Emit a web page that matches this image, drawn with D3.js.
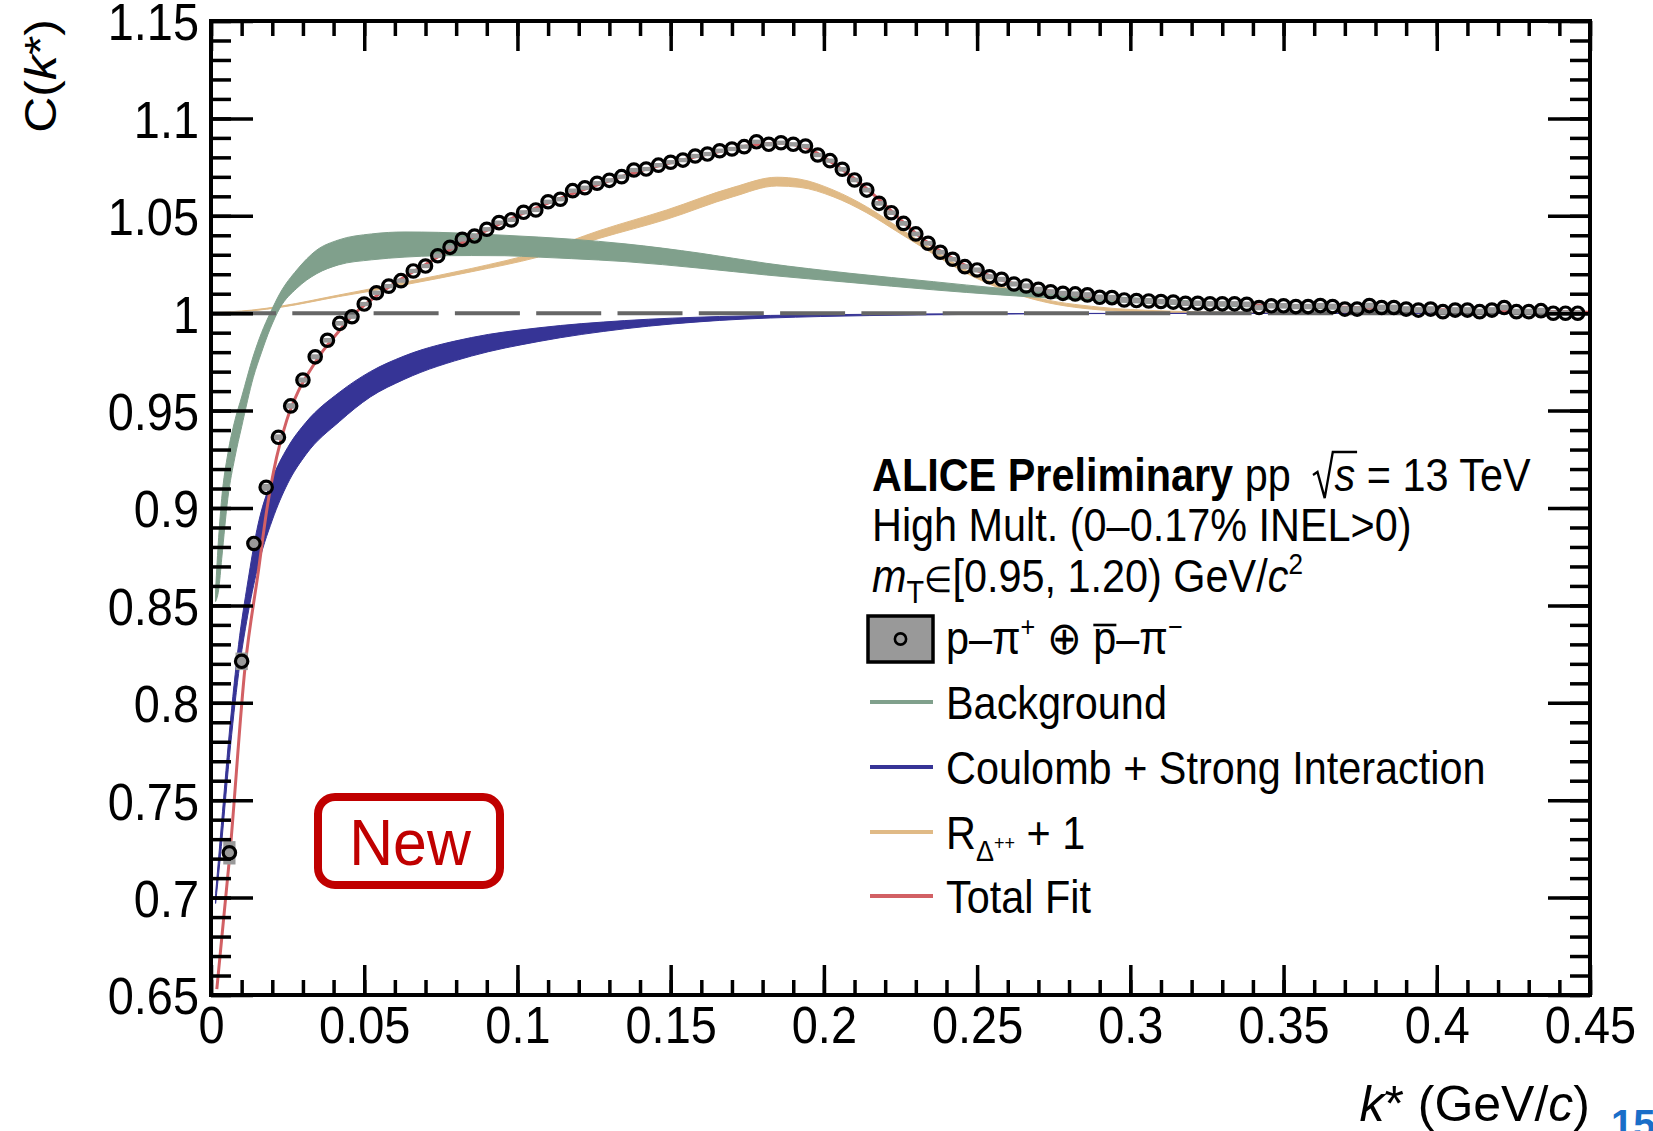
<!DOCTYPE html>
<html>
<head>
<meta charset="utf-8">
<script src="https://cdn.jsdelivr.net/npm/d3@7"></script>
<style>
  body { margin: 0; background: #fff; }
  svg { display: block; }
  text { font-family: "Liberation Sans", Arial, Helvetica, sans-serif; }
</style>
</head>
<body>
<script>
// ---- data ----
// bin centres k* (GeV/c) and measured correlation C(k*)
const kStar = [
  0.006, 0.010, 0.014, 0.018, 0.022, 0.026, 0.030, 0.034, 0.038, 0.042,
  0.046, 0.050, 0.054, 0.058, 0.062, 0.066, 0.070, 0.074, 0.078, 0.082,
  0.086, 0.090, 0.094, 0.098, 0.102, 0.106, 0.110, 0.114, 0.118, 0.122,
  0.126, 0.130, 0.134, 0.138, 0.142, 0.146, 0.150, 0.154, 0.158, 0.162,
  0.166, 0.170, 0.174, 0.178, 0.182, 0.186, 0.190, 0.194, 0.198, 0.202,
  0.206, 0.210, 0.214, 0.218, 0.222, 0.226, 0.230, 0.234, 0.238, 0.242,
  0.246, 0.250, 0.254, 0.258, 0.262, 0.266, 0.270, 0.274, 0.278, 0.282,
  0.286, 0.290, 0.294, 0.298, 0.302, 0.306, 0.310, 0.314, 0.318, 0.322,
  0.326, 0.330, 0.334, 0.338, 0.342, 0.346, 0.350, 0.354, 0.358, 0.362,
  0.366, 0.370, 0.374, 0.378, 0.382, 0.386, 0.390, 0.394, 0.398, 0.402,
  0.406, 0.410, 0.414, 0.418, 0.422, 0.426, 0.430, 0.434, 0.438, 0.442,
  0.446
];
const corr = [
  0.7230, 0.8213, 0.8818, 0.9106, 0.9363, 0.9524, 0.9657, 0.9776, 0.9861, 0.9948,
  0.9982, 1.0047, 1.0105, 1.0139, 1.0167, 1.0217, 1.0242, 1.0295, 1.0338, 1.0379,
  1.0396, 1.0431, 1.0465, 1.0479, 1.0518, 1.0530, 1.0572, 1.0585, 1.0629, 1.0644,
  1.0667, 1.0682, 1.0701, 1.0735, 1.0740, 1.0760, 1.0775, 1.0786, 1.0807, 1.0817,
  1.0834, 1.0843, 1.0855, 1.0880, 1.0867, 1.0875, 1.0867, 1.0858, 1.0812, 1.0783,
  1.0739, 1.0684, 1.0632, 1.0564, 1.0516, 1.0461, 1.0407, 1.0359, 1.0313, 1.0277,
  1.0239, 1.0222, 1.0187, 1.0174, 1.0150, 1.0140, 1.0123, 1.0110, 1.0102, 1.0099,
  1.0094, 1.0082, 1.0080, 1.0068, 1.0065, 1.0063, 1.0060, 1.0057, 1.0051, 1.0051,
  1.0048, 1.0048, 1.0048, 1.0046, 1.0029, 1.0038, 1.0038, 1.0034, 1.0034, 1.0039,
  1.0034, 1.0021, 1.0021, 1.0039, 1.0029, 1.0029, 1.0021, 1.0016, 1.0021, 1.0008,
  1.0016, 1.0016, 1.0008, 1.0016, 1.0029, 1.0008, 1.0008, 1.0013, 1.0000, 1.0000,
  1.0000
];
// systematic uncertainty (half height of the grey boxes)
const syst = [
  0.0060, 0.0045, 0.0025, 0.0018, 0.0015, 0.0014, 0.0013, 0.0013, 0.0012, 0.0012,
  0.0011, 0.0011, 0.0011, 0.0011, 0.0011, 0.0011, 0.0011, 0.0011, 0.0011, 0.0011,
  0.0011, 0.0011, 0.0011, 0.0011, 0.0011, 0.0011, 0.0011, 0.0011, 0.0011, 0.0011,
  0.0011, 0.0011, 0.0011, 0.0011, 0.0011, 0.0011, 0.0011, 0.0011, 0.0011, 0.0011,
  0.0011, 0.0011, 0.0011, 0.0011, 0.0011, 0.0011, 0.0011, 0.0011, 0.0011, 0.0011,
  0.0012, 0.0012, 0.0012, 0.0012, 0.0012, 0.0012, 0.0012, 0.0012, 0.0012, 0.0012,
  0.0013, 0.0013, 0.0013, 0.0013, 0.0013, 0.0013, 0.0013, 0.0013, 0.0013, 0.0013,
  0.0014, 0.0014, 0.0014, 0.0014, 0.0014, 0.0014, 0.0014, 0.0014, 0.0014, 0.0014,
  0.0014, 0.0014, 0.0014, 0.0014, 0.0014, 0.0014, 0.0014, 0.0014, 0.0014, 0.0014,
  0.0015, 0.0015, 0.0015, 0.0015, 0.0015, 0.0015, 0.0015, 0.0015, 0.0015, 0.0015,
  0.0015, 0.0015, 0.0015, 0.0015, 0.0015, 0.0015, 0.0015, 0.0015, 0.0015, 0.0015,
  0.0015
];

// Background band
const greenK  = [0.0015, 0.0025, 0.0035, 0.0055, 0.0078, 0.010, 0.0138, 0.0165, 0.0193, 0.0225, 0.028, 0.0345, 0.0416, 0.0524, 0.0633, 0.0742, 0.0851, 0.0959, 0.1068, 0.1177, 0.1351, 0.1596, 0.1813, 0.2085, 0.2357, 0.2575, 0.2901, 0.32, 0.35, 0.40, 0.45];
const greenHi = [0.858, 0.885, 0.905, 0.928, 0.945, 0.957, 0.978, 0.990, 1.000, 1.0102, 1.0222, 1.0324, 1.0376, 1.0407, 1.0417, 1.0415, 1.0408, 1.0400, 1.0391, 1.0380, 1.0356, 1.0308, 1.0256, 1.0205, 1.0162, 1.0128, 1.0089, 1.0062, 1.0042, 1.0020, 1.0008];
const greenLo = [0.852, 0.858, 0.874, 0.905, 0.926, 0.9417, 0.967, 0.980, 0.992, 1.0027, 1.0128, 1.0203, 1.0248, 1.0274, 1.0288, 1.0295, 1.0296, 1.0295, 1.0288, 1.0280, 1.0265, 1.0231, 1.0196, 1.0158, 1.0120, 1.0094, 1.0063, 1.0042, 1.0028, 1.0012, 1.0003];

// Coulomb + strong interaction band
const blueK  = [0.0015, 0.003, 0.006, 0.009, 0.012, 0.015, 0.020, 0.025, 0.031, 0.042, 0.052, 0.063, 0.085, 0.107, 0.135, 0.166, 0.199, 0.231, 0.284, 0.35, 0.45];
const blueHi = [0.702, 0.730, 0.785, 0.830, 0.862, 0.889, 0.915, 0.931, 0.944, 0.9595, 0.970, 0.978, 0.9875, 0.9925, 0.9962, 0.9983, 0.9992, 0.9996, 0.9999, 1.0, 1.0];
const blueLo = [0.697, 0.720, 0.772, 0.815, 0.845, 0.868, 0.8938, 0.9125, 0.9275, 0.9445, 0.957, 0.966, 0.978, 0.9855, 0.9920, 0.9963, 0.9983, 0.9991, 0.9998, 0.9999, 1.0];

// R_Delta++ + 1 band
const tanK  = [0.0, 0.0133, 0.023, 0.0416, 0.0524, 0.0633, 0.0851, 0.1068, 0.1269, 0.1487, 0.1704, 0.1846, 0.1922, 0.203, 0.2139, 0.2248, 0.2357, 0.2465, 0.2574, 0.2683, 0.29, 0.31, 0.33, 0.36, 0.40, 0.45];
const tanHi = [1.0003, 1.0016, 1.0037, 1.0093, 1.0126, 1.0160, 1.0230, 1.0314, 1.0425, 1.0530, 1.0646, 1.0698, 1.0688, 1.0633, 1.0547, 1.0436, 1.0325, 1.0222, 1.0143, 1.0085, 1.0031, 1.0012, 1.0005, 1.0002, 1.0001, 1.0000];
const tanLo = [1.0000, 1.0012, 1.0031, 1.0085, 1.0114, 1.0146, 1.0213, 1.0288, 1.0385, 1.0482, 1.0598, 1.0653, 1.0646, 1.0598, 1.0516, 1.0410, 1.0304, 1.0205, 1.0128, 1.0072, 1.0017, 1.0004, 1.0000, 1.0000, 1.0000, 1.0000];

// Total fit
const redK = [0.0019, 0.0062, 0.0111, 0.0155, 0.0182, 0.0214, 0.0247, 0.0285, 0.0329, 0.0367, 0.0416, 0.0456,
  0.05, 0.06, 0.07, 0.08, 0.09, 0.10, 0.11, 0.12, 0.13, 0.14, 0.15, 0.16, 0.17,
  0.175, 0.18, 0.185, 0.19, 0.195, 0.20, 0.205, 0.21, 0.215, 0.22, 0.225, 0.23, 0.235, 0.24, 0.245, 0.25,
  0.26, 0.27, 0.28, 0.29, 0.30, 0.32, 0.34, 0.36, 0.38, 0.40, 0.42, 0.45];
const redC = [0.653, 0.723, 0.818, 0.868, 0.899, 0.926, 0.945, 0.960, 0.972, 0.981, 0.9905, 0.998,
  1.004, 1.0155, 1.025, 1.0345, 1.0425, 1.050, 1.0565, 1.0625, 1.068, 1.073, 1.0772, 1.081, 1.0843,
  1.0858, 1.0868, 1.0872, 1.0866, 1.0845, 1.080, 1.0748, 1.069, 1.0625, 1.0555, 1.048, 1.041, 1.035, 1.030, 1.0255, 1.0218,
  1.016, 1.0125, 1.010, 1.008, 1.0068, 1.0052, 1.0042, 1.0034, 1.0026, 1.0018, 1.0012, 1.0005];

const xTicks = [0, 0.05, 0.1, 0.15, 0.2, 0.25, 0.3, 0.35, 0.4, 0.45];
const xTickLabels = ["0", "0.05", "0.1", "0.15", "0.2", "0.25", "0.3", "0.35", "0.4", "0.45"];
const yTicks = [0.65, 0.7, 0.75, 0.8, 0.85, 0.9, 0.95, 1.0, 1.05, 1.1, 1.15];
const yTickLabels = ["0.65", "0.7", "0.75", "0.8", "0.85", "0.9", "0.95", "1", "1.05", "1.1", "1.15"];

const greenColor = "#80a08c", blueColor = "#363496", tanColor = "#e0ba86", redColor = "#d26064";

// ---- layout ----
const W = 1653, H = 1131;
const x = d3.scaleLinear().domain([0, 0.45]).range([211, 1590]);
const y = d3.scaleLinear().domain([0.65, 1.15]).range([995, 21]);

const svg = d3.select("body").append("svg").attr("width", W).attr("height", H);
svg.append("rect").attr("width", W).attr("height", H).attr("fill", "#fff");

svg.append("clipPath").attr("id", "plotclip").append("rect")
  .attr("x", x(0)).attr("y", y(1.15))
  .attr("width", x(0.45) - x(0)).attr("height", y(0.65) - y(1.15));
const plot = svg.append("g").attr("clip-path", "url(#plotclip)");

const band = (ks, lo, hi) => ks.map((k, i) => ({ k, lo: lo[i], hi: hi[i] }));
const area = d3.area().x(d => x(d.k)).y0(d => y(d.lo)).y1(d => y(d.hi)).curve(d3.curveMonotoneX);

plot.append("path").datum(band(tanK, tanLo, tanHi)).attr("d", area)
  .attr("fill", tanColor).attr("stroke", tanColor).attr("stroke-width", 1);
plot.append("path").datum(band(blueK, blueLo, blueHi)).attr("d", area)
  .attr("fill", blueColor).attr("stroke", blueColor).attr("stroke-width", 1);
plot.append("path").datum(band(greenK, greenLo, greenHi)).attr("d", area)
  .attr("fill", greenColor).attr("stroke", greenColor).attr("stroke-width", 1);

const line = d3.line().x(d => x(d[0])).y(d => y(d[1])).curve(d3.curveMonotoneX);
plot.append("path").datum(redK.map((k, i) => [k, redC[i]])).attr("d", line)
  .attr("fill", "none").attr("stroke", redColor).attr("stroke-width", 3);

// unity line
plot.append("line")
  .attr("x1", x(0)).attr("x2", x(0.45)).attr("y1", y(1)).attr("y2", y(1))
  .attr("stroke", "#666").attr("stroke-width", 4).attr("stroke-dasharray", "65,16.3");

// data: grey syst boxes + open circles
const pts = kStar.map((k, i) => ({ k, c: corr[i], s: syst[i] }));
plot.selectAll("rect.sys").data(pts).join("rect").attr("class", "sys")
  .attr("x", d => x(d.k - 0.002)).attr("width", d => x(d.k + 0.002) - x(d.k - 0.002))
  .attr("y", d => y(d.c + d.s)).attr("height", d => y(d.c - d.s) - y(d.c + d.s))
  .attr("fill", "#999");
plot.selectAll("circle.pt").data(pts).join("circle").attr("class", "pt")
  .attr("cx", d => x(d.k)).attr("cy", d => y(d.c)).attr("r", 6.2)
  .attr("fill", "none").attr("stroke", "#000").attr("stroke-width", 3.2);

// ---- axes (ticks on all four sides, pointing inwards) ----
const tickW = 3.5;
function styleAxis(g) {
  g.select(".domain").remove();
  g.selectAll("line").attr("stroke", "#000").attr("stroke-width", tickW);
}
const minorX = d3.range(0, 0.4501, 0.01);
const minorY = d3.range(0.65, 1.1501, 0.01);

svg.append("g").attr("transform", `translate(0,${y(0.65)})`)
  .call(d3.axisBottom(x).tickValues(minorX).tickFormat("").tickSizeInner(-15).tickSizeOuter(0)).call(styleAxis);
svg.append("g").attr("transform", `translate(0,${y(1.15)})`)
  .call(d3.axisTop(x).tickValues(minorX).tickFormat("").tickSizeInner(-15).tickSizeOuter(0)).call(styleAxis);
svg.append("g").attr("transform", `translate(0,${y(1.15)})`)
  .call(d3.axisTop(x).tickValues(xTicks).tickFormat("").tickSizeInner(-30).tickSizeOuter(0)).call(styleAxis);
svg.append("g").attr("transform", `translate(${x(0)},0)`)
  .call(d3.axisLeft(y).tickValues(minorY).tickFormat("").tickSizeInner(-20).tickSizeOuter(0)).call(styleAxis);
svg.append("g").attr("transform", `translate(${x(0.45)},0)`)
  .call(d3.axisRight(y).tickValues(minorY).tickFormat("").tickSizeInner(-20).tickSizeOuter(0)).call(styleAxis);
svg.append("g").attr("transform", `translate(${x(0.45)},0)`)
  .call(d3.axisRight(y).tickValues(yTicks).tickFormat("").tickSizeInner(-42).tickSizeOuter(0)).call(styleAxis);

const gx = svg.append("g").attr("transform", `translate(0,${y(0.65)})`)
  .call(d3.axisBottom(x).tickValues(xTicks).tickFormat((d, i) => xTickLabels[i])
    .tickSizeInner(-30).tickSizeOuter(0).tickPadding(12))
  .call(styleAxis);
const gy = svg.append("g").attr("transform", `translate(${x(0)},0)`)
  .call(d3.axisLeft(y).tickValues(yTicks).tickFormat((d, i) => yTickLabels[i])
    .tickSizeInner(-42).tickSizeOuter(0).tickPadding(13))
  .call(styleAxis);
[gx, gy].forEach(g => g.selectAll("text")
  .attr("font-family", "Liberation Sans, Arial, sans-serif")
  .attr("font-size", 51).attr("fill", "#000").attr("transform", "scale(0.92,1)"));
gy.selectAll("text").attr("dy", "0.37em");

svg.append("rect").attr("x", x(0)).attr("y", y(1.15))
  .attr("width", x(0.45) - x(0)).attr("height", y(0.65) - y(1.15))
  .attr("fill", "none").attr("stroke", "#000").attr("stroke-width", 4);

// axis titles
const yt = svg.append("text").attr("transform", "translate(56,19) scale(0.9,1) rotate(-90)")
  .attr("text-anchor", "end").attr("font-size", 50);
yt.append("tspan").text("C(");
yt.append("tspan").attr("font-style", "italic").text("k");
yt.append("tspan").text("*)");

const xt = svg.append("text").attr("transform", "translate(1590,1121)")
  .attr("text-anchor", "end").attr("font-size", 50);
xt.append("tspan").attr("font-style", "italic").text("k");
xt.append("tspan").text("* (GeV/");
xt.append("tspan").attr("font-style", "italic").text("c");
xt.append("tspan").text(")");

// ---- "New" badge ----
svg.append("rect").attr("x", 318).attr("y", 797).attr("width", 182).attr("height", 88)
  .attr("rx", 17).attr("fill", "#fff").attr("stroke", "#c00000").attr("stroke-width", 8);
svg.append("text").attr("transform", "translate(410,865) scale(0.95,1)")
  .attr("text-anchor", "middle").attr("font-size", 64).attr("fill", "#c00000").text("New");

// ---- legend / labels ----
const sx = 0.9, fs = 46;
function textAt(x0, y0) {
  const g = svg.append("g").attr("transform", `translate(${x0},${y0}) scale(${sx},1)`);
  const t = g.append("text").attr("font-size", fs).attr("fill", "#000");
  return { g, t };
}

let a = textAt(872, 491);
a.t.append("tspan").attr("font-weight", "bold").text("ALICE Preliminary");
a.t.append("tspan").text(" pp ");
a.t.append("tspan").attr("font-style", "italic").attr("dx", 36).text("s");
a.t.append("tspan").text(" = 13 TeV");
{
  // hand-drawn radical over the italic s
  const e = a.t.node().getExtentOfChar(21);
  const x0 = e.x, x1 = e.x + e.width + 2;
  a.g.append("path")
    .attr("d", `M${x0 - 24},-16 L${x0 - 19},-19 L${x0 - 11},7 L${x0 - 2},-39 L${x1},-39`)
    .attr("fill", "none").attr("stroke", "#000").attr("stroke-width", 2.6).attr("stroke-linejoin", "miter");
}

a = textAt(872, 541);
a.t.text("High Mult. (0\u20130.17% INEL>0)");

a = textAt(872, 592);
a.t.append("tspan").attr("font-style", "italic").text("m");
a.t.append("tspan").attr("font-size", 32).attr("dy", 11).text("T");
a.t.append("tspan").attr("font-size", 36).attr("dy", -11).text("\u2208");
a.t.append("tspan").text("[0.95, 1.20) GeV/");
a.t.append("tspan").attr("font-style", "italic").text("c");
a.t.append("tspan").attr("font-size", 29).attr("dy", -18).text("2");

// legend entries
const legX0 = 870, legX1 = 933, legTx = 946;
svg.append("rect").attr("x", 868).attr("y", 616).attr("width", 65).attr("height", 46)
  .attr("fill", "#999").attr("stroke", "#000").attr("stroke-width", 3.5);
svg.append("circle").attr("cx", 900.5).attr("cy", 639).attr("r", 5.6)
  .attr("fill", "none").attr("stroke", "#000").attr("stroke-width", 2.6);
a = textAt(legTx, 654);
a.t.append("tspan").text("p\u2013\u03C0");
a.t.append("tspan").attr("font-size", 28).attr("dy", -18).text("+");
a.t.append("tspan").attr("dy", 18).text(" \u2295 p\u2013\u03C0");
a.t.append("tspan").attr("font-size", 28).attr("dy", -18).text("\u2212");
{
  const e = a.t.node().getExtentOfChar(7);
  a.g.append("line").attr("x1", e.x).attr("x2", e.x + e.width).attr("y1", -29).attr("y2", -29)
    .attr("stroke", "#000").attr("stroke-width", 2.6);
}

const entries = [
  { color: greenColor, y: 719 },
  { color: blueColor, y: 784 },
  { color: tanColor, y: 849 },
  { color: redColor, y: 913 }
];
entries.forEach(e => {
  svg.append("line").attr("x1", legX0).attr("x2", legX1).attr("y1", e.y - 17).attr("y2", e.y - 17)
    .attr("stroke", e.color).attr("stroke-width", 4);
});
textAt(legTx, 719).t.text("Background");
textAt(legTx, 784).t.text("Coulomb + Strong Interaction");
a = textAt(legTx, 849);
a.t.append("tspan").text("R");
a.t.append("tspan").attr("font-size", 30).attr("dy", 12).text("\u0394");
a.t.append("tspan").attr("font-size", 20).attr("dy", -11).text("++");
a.t.append("tspan").attr("dy", -1).text(" + 1");
textAt(legTx, 913).t.text("Total Fit");

// page number, cut by the edge of the slide
svg.append("text").attr("x", 1611).attr("y", 1138).attr("font-size", 40)
  .attr("font-weight", "bold").attr("fill", "#1a6ec8").text("15");
</script>
</body>
</html>
